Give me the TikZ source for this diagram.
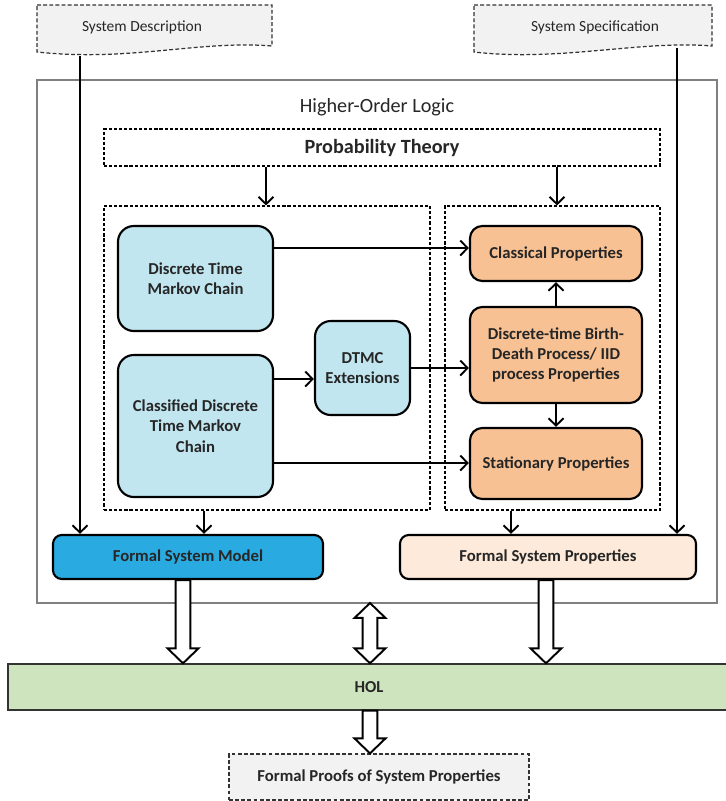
\documentclass[tikz,border=0pt]{standalone}
\usepackage{fontspec}
\setmainfont{Carlito}
\usetikzlibrary{arrows.meta}
\usetikzlibrary{calc}

\definecolor{chainblue}{RGB}{193,230,240}
\definecolor{proporange}{RGB}{248,193,147}
\definecolor{modelblue}{RGB}{41,171,226}
\definecolor{proppeach}{RGB}{253,234,218}
\definecolor{holgreen}{RGB}{206,228,190}
\definecolor{docgrey}{RGB}{242,242,242}
\definecolor{txtgrey}{RGB}{38,38,38}

% vertical hollow arrow pointing down, from #1 to #2
\newcommand{\fatdown}[2]{%
	\draw[fatline] let \p1=#1, \p2=#2 in
		(\x1-\sw,\y1) -- (\x1-\sw,\y2+\hl) -- (\x1-\hw,\y2+\hl) -- (\x2,\y2)
		-- (\x1+\hw,\y2+\hl) -- (\x1+\sw,\y2+\hl) -- (\x1+\sw,\y1) -- cycle;}
% vertical hollow arrow with heads at both ends, #1 on top, #2 below
\newcommand{\fatboth}[2]{%
	\draw[fatline] let \p1=#1, \p2=#2 in
		(\x1,\y1) -- (\x1-\hw,\y1-\hl) -- (\x1-\sw,\y1-\hl) -- (\x1-\sw,\y2+\hl) -- (\x1-\hw,\y2+\hl) -- (\x2,\y2)
		-- (\x1+\hw,\y2+\hl) -- (\x1+\sw,\y2+\hl) -- (\x1+\sw,\y1-\hl) -- (\x1+\hw,\y1-\hl) -- cycle;}

\begin{document}
\begin{tikzpicture}[x=0.02cm, y=-0.02cm,
	txt/.style={text=txtgrey, font=\fontsize{9.5}{11.5}\selectfont\bfseries, align=center, inner sep=0pt},
	chainbox/.style={txt, draw=black, line width=1.2pt, fill=chainblue, rounded corners=9pt},
	propbox/.style={txt, draw=black, line width=1.2pt, fill=proporange, rounded corners=7pt},
	group/.style={draw=black, line width=0.6pt, dash pattern=on 1.8pt off 1.1pt, inner sep=0pt},
	docline/.style={draw=black!80, fill=docgrey, line width=0.7pt, dash pattern=on 2.2pt off 1.3pt},
	arr/.style={line width=1.1pt, -{Straight Barb[length=4.2pt, width=8.5pt, line width=1.1pt]}},
	fatline/.style={draw=black, fill=white, line width=1.1pt, line join=miter}]

	\def\px{0.02cm}
	\def\sw{4.2pt}
	\def\hw{8.8pt}
	\def\hl{8.5pt}

	\useasboundingbox (0,0) rectangle (726,801);

	%helper coordinates for connector positions
	\coordinate (xsd) at (80,0);
	\coordinate (xss) at (677,0);
	\coordinate (xpl) at (266,0);
	\coordinate (xpr) at (557,0);
	\coordinate (xlg) at (204,0);
	\coordinate (xrg) at (511,0);
	\coordinate (xfm) at (183,0);
	\coordinate (xfp) at (546,0);
	\coordinate (xhol) at (370,0);
	\coordinate (ycls) at (0,248);
	\coordinate (yext) at (0,379);
	\coordinate (ystat) at (0,463);

	%outer frame
	\draw[gray, line width=0.7pt] (37,80) rectangle (717,603);
	\coordinate (framebot) at (370,603);
	\node[font=\fontsize{11.5}{13}\selectfont, text=txtgrey] (hollabel) at (377,107) {Higher-Order Logic};

	%input documents
	\draw[docline] (37,5) -- (272,5) -- (272,46) .. controls (200,40) and (130,62) .. (37,52) -- cycle;
	\node[font=\fontsize{8.8}{10}\selectfont, text=txtgrey] (sysdesc) at (142,27) {System Description};
	\coordinate (sdfoot) at (80,56);
	\draw[docline] (474,5) -- (712,5) -- (712,46) .. controls (640,40) and (560,62) .. (474,52) -- cycle;
	\node[font=\fontsize{8.8}{10}\selectfont, text=txtgrey] (sysspec) at (595,27) {System Specification};
	\coordinate (ssfoot) at (677,48);

	%probability theory and groups
	\node[group, txt, font=\fontsize{11.5}{13}\selectfont\bfseries, minimum width=556*\px, minimum height=37*\px] (prob) at (382,147.5) {Probability Theory};
	\node[group, minimum width=326*\px, minimum height=304*\px] (leftgrp) at (267,358) {};
	\node[group, minimum width=215*\px, minimum height=304*\px] (rightgrp) at (552.5,358) {};

	%markov chain boxes
	\node[chainbox, minimum width=155*\px, minimum height=105*\px] (dtmc) at (195.5,278.5) {Discrete Time\\Markov Chain};
	\node[chainbox, minimum width=155*\px, minimum height=142*\px] (cdtmc) at (195.5,426) {Classified Discrete\\Time Markov\\Chain};
	\node[chainbox, minimum width=95*\px, minimum height=94*\px] (ext) at (362.5,368) {DTMC\\Extensions};

	%property boxes
	\node[propbox, minimum width=172*\px, minimum height=55*\px] (classical) at (556,253.5) {Classical Properties};
	\node[propbox, minimum width=172*\px, minimum height=96*\px] (bd) at (556,355) {Discrete-time Birth-\\Death Process/ IID\\process Properties};
	\node[propbox, minimum width=172*\px, minimum height=71*\px] (stat) at (556,463.5) {Stationary Properties};

	%formal model and properties
	\node[txt, draw=black, line width=1.2pt, fill=modelblue, rounded corners=5pt, minimum width=270*\px, minimum height=44*\px] (fsm) at (188,557) {Formal System Model};
	\node[txt, draw=black, line width=1.2pt, fill=proppeach, rounded corners=5pt, minimum width=296*\px, minimum height=44*\px] (fsp) at (548,557) {Formal System Properties};

	%theorem prover and result
	\node[txt, draw=black!80, line width=0.8pt, fill=holgreen, minimum width=722*\px, minimum height=46*\px] (hol) at (369,687) {HOL};
	\node[txt, docline, minimum width=300*\px, minimum height=46*\px] (proofs) at (379,777) {Formal Proofs of System Properties};

	%thin connectors
	\draw[arr] (prob.south -| xpl) -- (leftgrp.north -| xpl);
	\draw[arr] (prob.south -| xpr) -- (rightgrp.north -| xpr);
	\draw[arr] (dtmc.east |- ycls) -- (classical.west |- ycls);
	\draw[arr] (cdtmc.east |- yext) -- (ext.west |- yext);
	\draw[arr] (ext.east) -- (bd.west |- ext.east);
	\draw[arr] (cdtmc.east |- ystat) -- (stat.west |- ystat);
	\draw[arr] (bd.north) -- (classical.south);
	\draw[arr] (bd.south) -- (stat.north);
	\draw[arr] (sdfoot) -- (fsm.north -| xsd);
	\draw[arr] (ssfoot) -- (fsp.north -| xss);
	\draw[arr] (leftgrp.south -| xlg) -- (fsm.north -| xlg);
	\draw[arr] (rightgrp.south -| xrg) -- (fsp.north -| xrg);

	%hollow arrows
	\fatdown{(fsm.south -| xfm)}{(hol.north -| xfm)}
	\fatdown{(fsp.south -| xfp)}{(hol.north -| xfp)}
	\fatboth{(framebot)}{(hol.north -| xhol)}
	\fatdown{(hol.south -| xhol)}{(proofs.north -| xhol)}

\end{tikzpicture}
\end{document}
